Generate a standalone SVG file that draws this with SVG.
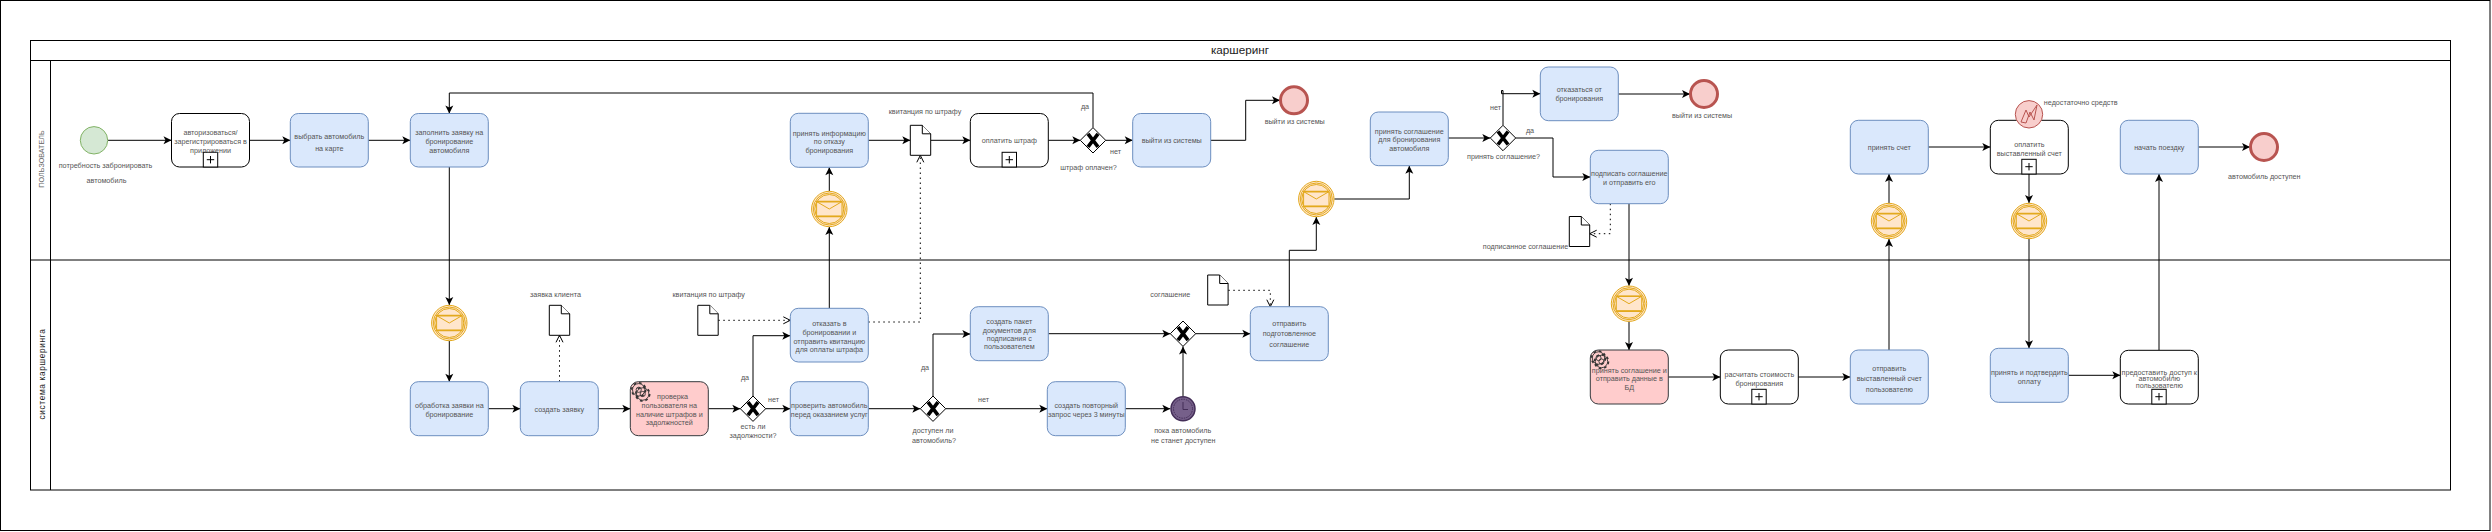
<svg xmlns="http://www.w3.org/2000/svg" width="2492" height="532" viewBox="0 0 2492 532">
<style>
text{font-family:"Liberation Sans",Arial,sans-serif;font-size:7.2px;fill:#555;text-anchor:middle}
.task{fill:#dae8fc;stroke:#6c8ebf;stroke-width:1}
.sub{fill:#fff;stroke:#000;stroke-width:1}
.red{fill:#ffcccc;stroke:#36393d;stroke-width:1}
.ln{fill:none;stroke:#000;stroke-width:1}
.flow{fill:none;stroke:#000;stroke-width:1;marker-end:url(#a)}
.dot{fill:none;stroke:#000;stroke-width:1;stroke-dasharray:1.5 3.5;marker-end:url(#o)}
.doc{fill:#fff;stroke:#000;stroke-width:1}
.gw{fill:#fff;stroke:#000;stroke-width:1}
.x{fill:none;stroke:#000;stroke-width:3.6}
.end{fill:#f8cecc;stroke:#b85450;stroke-width:3}
.msg{fill:#ffe6cc;stroke:#e3a91d;stroke-width:1}
.env{fill:#ffe6cc;stroke:#e3a91d;stroke-width:1}
.plus{fill:#fff;stroke:#000;stroke-width:1}
</style>
<defs>
<marker id="a" markerUnits="userSpaceOnUse" markerWidth="10" markerHeight="10" refX="8" refY="4" orient="auto" overflow="visible"><path d="M0,0 L8,4 L0,8 L2,4 Z" fill="#000"/></marker>
<marker id="o" markerUnits="userSpaceOnUse" markerWidth="10" markerHeight="10" refX="7" refY="3.5" orient="auto" overflow="visible"><path d="M0,0 L7,3.5 L0,7" fill="none" stroke="#000" stroke-width="1"/></marker>
<g id="plus"><rect class="plus" x="-7.2" y="-14.7" width="14.4" height="14.7"/><path d="M-3.7,-7.3H3.7M0,-11V-3.6" stroke="#000" fill="none"/></g>
<g id="mail"><circle class="msg" r="17.7"/><circle class="msg" r="16"/><circle class="msg" r="14.5"/><rect class="env" x="-12.7" y="-7.4" width="25.4" height="14.8"/><path class="env" fill="none" d="M-12.7,-7.4L0,0L12.7,-7.4"/><path d="M-12.7,-7.4H12.7M-12.7,7.4H12.7" stroke="#e3a91d" stroke-width="1.6" fill="none"/></g>
<g id="x"><path class="x" d="M-5,-6.5L5,6.5M5,-6.5L-5,6.5"/></g>
<g id="gw"><path class="gw" d="M0,-12.7L12.7,0L0,12.7L-12.7,0Z"/><use href="#x"/></g>
<g id="doc"><path class="doc" d="M0,0H12L20.4,8.5V30H0Z"/><path class="doc" d="M12,0V8.5H20.4"/></g>
<g id="gear"><circle r="6.2" fill="none" stroke="#333" stroke-width="0.9"/><circle r="7" fill="none" stroke="#333" stroke-width="1.6" stroke-dasharray="2.7 2.8"/><circle r="2.6" fill="none" stroke="#333" stroke-width="0.9"/></g>
</defs>
<rect width="2492" height="532" fill="#fff"/>

<g id="outer-frame"><rect x="0.5" y="0.5" width="2489.5" height="530" fill="#fff" stroke="#000"/></g>

<g id="pool">
<rect x="30.5" y="40.5" width="2420" height="449.5" fill="#fff" stroke="#000"/>
<path d="M30.5,60.5H2450.5M30.5,260H2450.5M50.5,60.5V490" class="ln"/>
<text x="1240" y="53.8" style="font-size:11.7px;fill:#222">каршеринг</text>
<text transform="translate(44,159) rotate(-90)" style="fill:#666">ПОЛЬЗОВАТЕЛЬ</text>
<text transform="translate(44.5,374) rotate(-90)" style="font-size:8.3px;fill:#222;letter-spacing:0.65px">система каршеринга</text>
</g>

<g id="connectors">
<path class="flow" d="M108,140.3H171.5"/>
<path class="flow" d="M249.5,140.3H290.3"/>
<path class="flow" d="M368.3,140.3H410.3"/>
<path class="flow" d="M449.3,167V305"/>
<path class="flow" d="M449.3,341V381.7"/>
<path class="flow" d="M488.3,408.7H520.3"/>
<path class="flow" d="M598.3,408.7H630.3"/>
<path class="flow" d="M708.3,408.7H740.3"/>
<path class="flow" d="M765.7,408.7H790.3"/>
<path class="flow" d="M753,396V335.7H790.3"/>
<path class="flow" d="M868.3,408.7H920.3"/>
<path class="flow" d="M933,396V334H970.3"/>
<path class="flow" d="M945.7,408.7H1047.3"/>
<path class="flow" d="M1125.3,408.7H1170.3"/>
<path class="flow" d="M1183,396V346.4"/>
<path class="flow" d="M1048.3,333.7H1170.3"/>
<path class="flow" d="M1195.7,333.7H1250.3"/>
<path class="flow" d="M829.3,308.3V227"/>
<path class="flow" d="M829.3,191V167.3"/>
<path class="flow" d="M868.3,140.3H910.3"/>
<path class="flow" d="M930.7,140.3H970.3"/>
<path class="flow" d="M1048.3,140.3H1080.3"/>
<path class="flow" d="M1105.7,140.3H1132.7"/>
<path class="flow" d="M1093,127.6V93H449.3V113.5"/>
<path class="flow" d="M1210.7,140.3H1245.7V100.3H1280"/>
<path class="flow" d="M1289.3,306.7V250.3H1316.3V217"/>
<path class="flow" d="M1334.3,199H1409.3V165.7"/>
<path class="flow" d="M1448.3,138H1490.3"/>
<path class="flow" d="M1503,125.3V90.5H1501.5V93.7H1540.3"/>
<path class="flow" d="M1515.7,138H1553V177H1590.3"/>
<path class="flow" d="M1618.3,94H1690"/>
<path class="flow" d="M1629,203.7V285.7"/>
<path class="flow" d="M1629,321.7V350"/>
<path class="flow" d="M1668.3,377H1720.3"/>
<path class="flow" d="M1798.3,377H1850.3"/>
<path class="flow" d="M1889,350V239"/>
<path class="flow" d="M1889,203V174"/>
<path class="flow" d="M1928.3,147H1990.3"/>
<path class="flow" d="M2029,174V203"/>
<path class="flow" d="M2029,239V348.3"/>
<path class="flow" d="M2068.3,375.3H2120.3"/>
<path class="flow" d="M2159,350.3V174"/>
<path class="flow" d="M2198.3,147H2250"/>
<path class="dot" d="M559.5,381.7V335.3"/>
<path class="dot" d="M718.3,320.3H790.3"/>
<path class="dot" d="M868.3,322H920.3V155.3"/>
<path class="dot" d="M1228.3,290.3H1270.3V306.7"/>
<path class="dot" d="M1610.3,203.7V233.7H1589.7"/>
</g>

<g id="start"><circle cx="94" cy="140.3" r="13.7" fill="#d5e8d4" stroke="#82b366"/><text x="105.5" y="168">потребность забронировать</text><text x="106.5" y="183">автомобиль</text></g>

<g id="n-auth"><rect class="sub" x="171.5" y="113.5" width="78" height="53.5" rx="8"/><use href="#plus" x="210.5" y="167"/><text x="210.5" y="134.5">авторизоваться/</text><text x="210.5" y="143.5">зарегистрироваться в</text><text x="210.5" y="152.5">приложении</text></g>
<g id="n-choose"><rect class="task" x="290.3" y="113.5" width="78" height="53.5" rx="8"/><text x="329.3" y="138.5">выбрать автомобиль</text><text x="329.3" y="151">на карте</text></g>
<g id="n-fill"><rect class="task" x="410.3" y="113.5" width="78" height="53.5" rx="8"/><text x="449.3" y="135">заполнить заявку на</text><text x="449.3" y="143.5">бронирование</text><text x="449.3" y="152.5">автомобиля</text></g>
<g id="n-info"><rect class="task" x="790.3" y="113.3" width="78" height="54" rx="8"/><text x="829.3" y="135.5">принять информацию</text><text x="829.3" y="143.5">по отказу</text><text x="829.3" y="152.5">бронирования</text></g>
<g id="m1"><use href="#mail" x="829.3" y="209"/></g>
<g id="d1"><use href="#doc" x="910.3" y="125.3"/><text x="925" y="114">квитанция по штрафу</text></g>
<g id="n-pay-fine"><rect class="sub" x="970.3" y="113.5" width="78" height="53.5" rx="8"/><use href="#plus" x="1009.3" y="167"/><text x="1009.3" y="143">оплатить штраф</text></g>
<g id="g-fine"><use href="#gw" x="1093" y="140.3"/><text x="1085" y="109">да</text><text x="1115.5" y="154">нет</text><text x="1088.5" y="170">штраф оплачен?</text></g>
<g id="n-exit"><rect class="task" x="1132.7" y="113.5" width="78" height="53.5" rx="8"/><text x="1171.7" y="143">выйти из системы</text></g>
<g id="e1"><circle class="end" cx="1294" cy="100.3" r="13.5"/><text x="1294.7" y="124">выйти из системы</text></g>
<g id="m2"><use href="#mail" x="1316.3" y="199"/></g>
<g id="n-accept"><rect class="task" x="1370.3" y="112" width="78" height="53.7" rx="8"/><text x="1409.3" y="133.5">принять  соглашение</text><text x="1409.3" y="141.5">для бронирования</text><text x="1409.3" y="150.5">автомобиля</text></g>
<g id="g-accept"><use href="#gw" x="1503" y="138"/><text x="1495.5" y="109.5">нет</text><text x="1530" y="132.5">да</text><text x="1503.5" y="159">принять соглашение?</text></g>
<g id="n-refuse"><rect class="task" x="1540.3" y="67" width="78" height="53.7" rx="8"/><text x="1579.3" y="92">отказаться от</text><text x="1579.3" y="101">бронирования</text></g>
<g id="e2"><circle class="end" cx="1704" cy="94" r="13.5"/><text x="1702" y="118">выйти из системы</text></g>
<g id="n-sign"><rect class="task" x="1590.3" y="150.3" width="78" height="53.4" rx="8"/><text x="1629.3" y="176">подписать соглашение</text><text x="1629.3" y="185">и отправить его</text></g>
<g id="d2"><use href="#doc" x="1569.3" y="216.5"/><text x="1525.5" y="249">подписанное соглашение</text></g>
<g id="n-bill"><rect class="task" x="1850.3" y="120.3" width="78" height="53.7" rx="8"/><text x="1889.3" y="150">принять счет</text></g>
<g id="m5"><use href="#mail" x="1889" y="221"/></g>
<g id="n-pay"><rect class="sub" x="1990.3" y="120.3" width="78" height="53.7" rx="8"/><use href="#plus" x="2029" y="174"/><text x="2029.3" y="146.5">оплатить</text><text x="2029.3" y="155.5">выставленный счет</text></g>
<g id="err"><circle cx="2029" cy="114.3" r="13.7" fill="#f8cecc" stroke="#b85450"/><path d="M2021,122L2026,110L2029,117L2037,105L2034,120L2030,112L2026,123Z" fill="none" stroke="#b85450"/><text x="2080.7" y="105">недостаточно средств</text></g>
<g id="m6"><use href="#mail" x="2029" y="221"/></g>
<g id="n-start"><rect class="task" x="2120.3" y="120.3" width="78" height="53.7" rx="8"/><text x="2159.3" y="150">начать поездку</text></g>
<g id="e3"><circle class="end" cx="2264" cy="147" r="13.5"/><text x="2264.3" y="179">автомобиль доступен</text></g>

<g id="m0"><use href="#mail" x="449.3" y="323"/></g>
<g id="n-process"><rect class="task" x="410.3" y="381.7" width="78" height="54" rx="8"/><text x="449.3" y="407.5">обработка заявки на</text><text x="449.3" y="416.5">бронирование</text></g>
<g id="n-create"><rect class="task" x="520.3" y="381.7" width="78" height="54" rx="8"/><text x="559.3" y="412">создать заявку</text></g>
<g id="d3"><use href="#doc" x="549.3" y="305.3"/><text x="555.5" y="296.5">заявка клиента</text></g>
<g id="n-check"><rect class="red" x="630.3" y="381.7" width="78" height="54" rx="8"/><use href="#gear" x="638.7" y="389.8"/><use href="#gear" x="642.7" y="394"/><text x="672.5" y="399">проверка</text><text x="669.3" y="407.5">пользователя на</text><text x="669.3" y="416.5">наличие штрафов и</text><text x="669.3" y="424.5">задолжностей</text></g>
<g id="g-debt"><use href="#gw" x="753" y="408.7"/><text x="745" y="379.5">да</text><text x="773.5" y="401.5">нет</text><text x="753" y="429">есть ли</text><text x="753" y="437.5">задолжности?</text></g>
<g id="d4"><use href="#doc" x="697.8" y="305.3"/><text x="708.7" y="297">квитанция по штрафу</text></g>
<g id="n-reject"><rect class="task" x="790.3" y="308.3" width="78" height="53.7" rx="8"/><text x="829.3" y="326">отказать в</text><text x="829.3" y="334.5">бронировании и</text><text x="829.3" y="343.5">отправить квитанцию</text><text x="829.3" y="351.5">для оплаты штрафа</text></g>
<g id="n-verify"><rect class="task" x="790.3" y="381.7" width="78" height="54" rx="8"/><text x="829.3" y="407.5">проверить автомобиль</text><text x="829.3" y="416.5">перед оказанием услуг</text></g>
<g id="g-avail"><use href="#gw" x="933" y="408.7"/><text x="925" y="369.5">да</text><text x="983.5" y="401.5">нет</text><text x="933" y="432.5">доступен ли</text><text x="934" y="443">автомобиль?</text></g>
<g id="n-pack"><rect class="task" x="970.3" y="306.7" width="78" height="54" rx="8"/><text x="1009.3" y="323.5">создать пакет</text><text x="1009.3" y="332.5">документов для</text><text x="1009.3" y="340.5">подписания с</text><text x="1009.3" y="349">пользователем</text></g>
<g id="n-retry"><rect class="task" x="1047.3" y="381.7" width="78" height="54" rx="8"/><text x="1086.3" y="407.5">создать повторный</text><text x="1086.3" y="416.5">запрос через 3 минуты</text></g>
<g id="timer"><circle cx="1183" cy="408.7" r="12" fill="#76608a" stroke="#432d57" stroke-width="1.5"/><circle cx="1183" cy="408.7" r="9.5" fill="#76608a" stroke="#432d57" stroke-width="1" stroke-dasharray="1.5 1"/><path d="M1183,402V409.5H1188" fill="none" stroke="#432d57"/><text x="1182.7" y="432.5">пока автомобиль</text><text x="1183.3" y="442.5">не станет доступен</text></g>
<g id="g-join"><use href="#gw" x="1183" y="333.7"/></g>
<g id="d5"><use href="#doc" x="1207.7" y="275"/><text x="1170.3" y="297">соглашение</text></g>
<g id="n-send"><rect class="task" x="1250.3" y="306.7" width="78" height="54" rx="8"/><text x="1289.3" y="326">отправить</text><text x="1289.3" y="336">подготовленное</text><text x="1289.3" y="347">соглашение</text></g>
<g id="m3"><use href="#mail" x="1629" y="303.7"/></g>
<g id="n-db"><rect class="red" x="1590.3" y="350" width="78" height="54" rx="8"/><use href="#gear" x="1598.5" y="358"/><use href="#gear" x="1601.5" y="361.5"/><text x="1629.3" y="372.5">принять соглашение и</text><text x="1629.3" y="380.5">отправить данные в</text><text x="1629.3" y="389.5">БД</text></g>
<g id="n-calc"><rect class="sub" x="1720.3" y="350" width="78" height="54" rx="8"/><use href="#plus" x="1759" y="404"/><text x="1759.3" y="376.5">расчитать стоимость</text><text x="1759.3" y="385.5">бронирования</text></g>
<g id="n-sendbill"><rect class="task" x="1850.3" y="350" width="78" height="54" rx="8"/><text x="1889.3" y="370.5">отправить</text><text x="1889.3" y="380.5">выставленный счет</text><text x="1889.3" y="391.5">пользователю</text></g>
<g id="n-confirm"><rect class="task" x="1990.3" y="348.3" width="78" height="54" rx="8"/><text x="2029.3" y="374.5">принять и подтвердить</text><text x="2029.3" y="383.5">оплату</text></g>
<g id="n-access"><rect class="sub" x="2120.3" y="350.3" width="78" height="53.7" rx="8"/><use href="#plus" x="2159" y="404"/><text x="2159.3" y="374.5">предоставить доступ к</text><text x="2159.3" y="380.5">автомобилю</text><text x="2159.3" y="387.5">пользователю</text></g>
</svg>
